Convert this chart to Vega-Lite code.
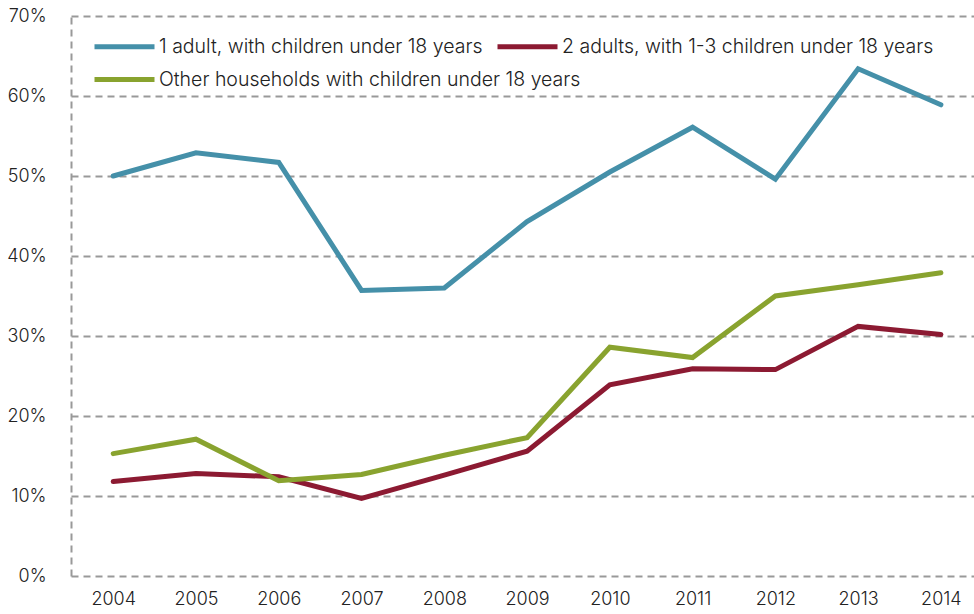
{
  "$schema": "https://vega.github.io/schema/vega-lite/v6.json",
  "width": 903,
  "height": 560,
  "autosize": {"type": "none"},
  "padding": {"left": 71, "top": 16, "right": 0, "bottom": 38},
  "background": "white",
  "config": {
    "view": {"stroke": null},
    "font": "Inter",
    "axis": {"labelFont": "Inter", "labelFontSize": 18, "labelColor": "#222222", "labelFontWeight": 300},
    "legend": {
      "title": null,
      "orient": "none",
      "direction": "horizontal",
      "columnPadding": 4,
      "symbolType": "stroke",
      "symbolSize": 3600,
      "symbolStrokeWidth": 5,
      "labelFont": "Inter",
      "labelFontSize": 19.5,
      "labelFontWeight": 300,
      "labelColor": "#222222",
      "labelOffset": 2,
      "labelLimit": 0
    }
  },
  "data": {
    "values": [
      {"year": 2004, "series": "1 adult, with children under 18 years", "value": 0.500},
      {"year": 2005, "series": "1 adult, with children under 18 years", "value": 0.529},
      {"year": 2006, "series": "1 adult, with children under 18 years", "value": 0.517},
      {"year": 2007, "series": "1 adult, with children under 18 years", "value": 0.357},
      {"year": 2008, "series": "1 adult, with children under 18 years", "value": 0.360},
      {"year": 2009, "series": "1 adult, with children under 18 years", "value": 0.443},
      {"year": 2010, "series": "1 adult, with children under 18 years", "value": 0.505},
      {"year": 2011, "series": "1 adult, with children under 18 years", "value": 0.561},
      {"year": 2012, "series": "1 adult, with children under 18 years", "value": 0.496},
      {"year": 2013, "series": "1 adult, with children under 18 years", "value": 0.634},
      {"year": 2014, "series": "1 adult, with children under 18 years", "value": 0.589},
      {"year": 2004, "series": "2 adults, with 1-3 children under 18 years", "value": 0.118},
      {"year": 2005, "series": "2 adults, with 1-3 children under 18 years", "value": 0.128},
      {"year": 2006, "series": "2 adults, with 1-3 children under 18 years", "value": 0.124},
      {"year": 2007, "series": "2 adults, with 1-3 children under 18 years", "value": 0.097},
      {"year": 2008, "series": "2 adults, with 1-3 children under 18 years", "value": 0.126},
      {"year": 2009, "series": "2 adults, with 1-3 children under 18 years", "value": 0.156},
      {"year": 2010, "series": "2 adults, with 1-3 children under 18 years", "value": 0.239},
      {"year": 2011, "series": "2 adults, with 1-3 children under 18 years", "value": 0.259},
      {"year": 2012, "series": "2 adults, with 1-3 children under 18 years", "value": 0.258},
      {"year": 2013, "series": "2 adults, with 1-3 children under 18 years", "value": 0.312},
      {"year": 2014, "series": "2 adults, with 1-3 children under 18 years", "value": 0.302},
      {"year": 2004, "series": "Other households with children under 18 years", "value": 0.153},
      {"year": 2005, "series": "Other households with children under 18 years", "value": 0.171},
      {"year": 2006, "series": "Other households with children under 18 years", "value": 0.119},
      {"year": 2007, "series": "Other households with children under 18 years", "value": 0.127},
      {"year": 2008, "series": "Other households with children under 18 years", "value": 0.151},
      {"year": 2009, "series": "Other households with children under 18 years", "value": 0.173},
      {"year": 2010, "series": "Other households with children under 18 years", "value": 0.286},
      {"year": 2011, "series": "Other households with children under 18 years", "value": 0.273},
      {"year": 2012, "series": "Other households with children under 18 years", "value": 0.350},
      {"year": 2013, "series": "Other households with children under 18 years", "value": 0.364},
      {"year": 2014, "series": "Other households with children under 18 years", "value": 0.379}
    ]
  },
  "encoding": {
    "x": {
      "field": "year",
      "type": "quantitative",
      "scale": {"domain": [2003.49, 2014.4], "nice": false, "zero": false},
      "axis": {
        "title": null,
        "values": [2004, 2005, 2006, 2007, 2008, 2009, 2010, 2011, 2012, 2013, 2014],
        "format": "d",
        "grid": false,
        "domain": false,
        "ticks": false,
        "labelPadding": 14,
        "labelFlush": false
      }
    },
    "y": {
      "field": "value",
      "type": "quantitative",
      "scale": {"domain": [0, 0.7], "nice": false},
      "axis": {
        "title": null,
        "values": [0, 0.1, 0.2, 0.3, 0.4, 0.5, 0.6, 0.7],
        "format": ".0%",
        "grid": true,
        "gridColor": "#999999",
        "gridDash": [7, 5],
        "gridWidth": 2,
        "domain": true,
        "domainColor": "#999999",
        "domainDash": [7, 5],
        "domainWidth": 2,
        "ticks": false,
        "labelPadding": 25
      }
    }
  },
  "layer": [
    {
      "transform": [{"filter": "datum.series !== 'Other households with children under 18 years'"}],
      "mark": {"type": "line", "strokeWidth": 5, "strokeCap": "round", "strokeJoin": "miter"},
      "encoding": {
        "color": {
          "field": "series",
          "type": "nominal",
          "scale": {
            "domain": ["1 adult, with children under 18 years", "2 adults, with 1-3 children under 18 years"],
            "range": ["#4590a9", "#8c1a32"]
          },
          "legend": {"legendX": 21, "legendY": -2}
        }
      }
    },
    {
      "transform": [{"filter": "datum.series === 'Other households with children under 18 years'"}],
      "mark": {"type": "line", "strokeWidth": 5, "strokeCap": "round", "strokeJoin": "miter"},
      "encoding": {
        "color": {
          "field": "series",
          "type": "nominal",
          "scale": {
            "domain": ["Other households with children under 18 years"],
            "range": ["#89a32f"]
          },
          "legend": {"legendX": 21, "legendY": 31}
        }
      }
    }
  ],
  "resolve": {"scale": {"color": "independent"}, "legend": {"color": "independent"}}
}
